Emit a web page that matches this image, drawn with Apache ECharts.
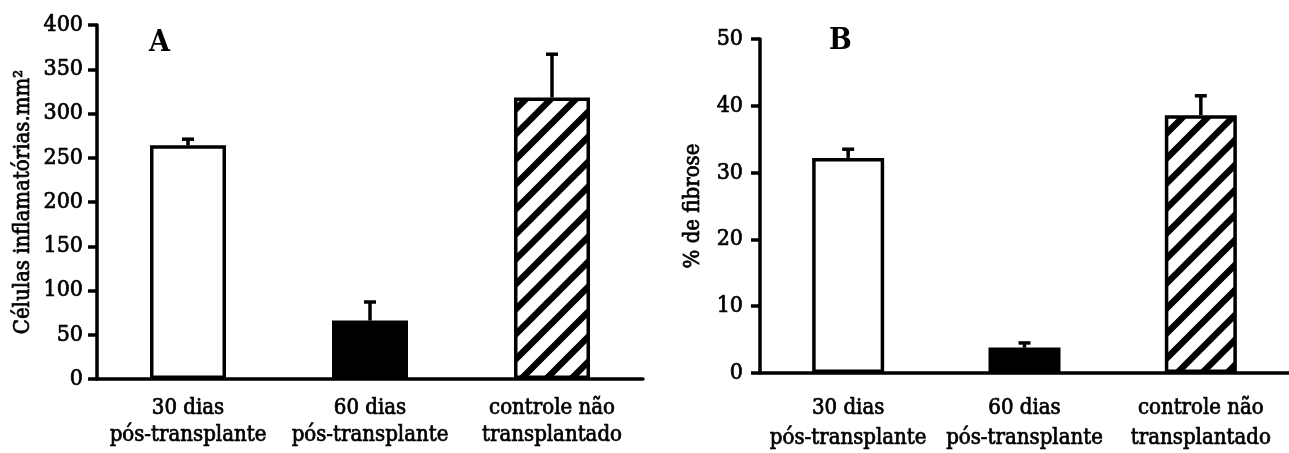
<!DOCTYPE html>
<html>
<head>
<meta charset="utf-8">
<style>
  html, body { margin: 0; padding: 0; background: #fff; }
  #chart { width: 1289px; height: 453px; }
</style>
<script src="https://cdn.jsdelivr.net/npm/echarts@6/dist/echarts.min.js"></script>
</head>
<body>
<div id="chart"></div>
<script>
// data
var categories = ['30 dias\npós-transplante', '60 dias\npós-transplante', 'controle não\ntransplantado']
var cellsMean = [264, 66, 318]
var cellsErr = [7, 21, 49]
var fibroseMean = [32.2, 3.8, 38.6]
var fibroseErr = [1.3, 0.7, 2.9]

var FONT = "'DejaVu Serif Condensed', 'Liberation Serif', serif"
// thin outline to get the heavier look of the printed font
var heavy = { textBorderColor: '#000', textBorderWidth: 0.7 }

function hatchPattern() {
  var s = 25
  var c = document.createElement('canvas')
  c.width = s
  c.height = s
  var ctx = c.getContext('2d')
  ctx.fillStyle = '#fff'
  ctx.fillRect(0, 0, s, s)
  ctx.strokeStyle = '#000'
  ctx.lineWidth = 6.5
  ctx.beginPath()
  for (var k = -1; k <= 1; k++) {
    ctx.moveTo(-5 + k * s, s + 5)
    ctx.lineTo(s + 5 + k * s, -5)
  }
  ctx.stroke()
  return { image: c, repeat: 'repeat' }
}

var hatch = hatchPattern()
var barColors = ['#fff', '#000', hatch]

function barData(values) {
  return values.map(function (v, i) {
    return { value: v, itemStyle: { color: barColors[i] } }
  })
}

function errorSeries(idx, means, errs) {
  return {
    type: 'custom',
    xAxisIndex: idx,
    yAxisIndex: idx,
    z: 1,
    data: means.map(function (m, i) { return [i, m, m + errs[i]] }),
    renderItem: function (params, api) {
      var low = api.coord([api.value(0), api.value(1)])
      var high = api.coord([api.value(0), api.value(2)])
      var hw = 6
      return {
        type: 'group',
        children: [
          { type: 'line', shape: { x1: low[0], y1: low[1], x2: high[0], y2: high[1] }, style: { stroke: '#000', lineWidth: 3.5 } },
          { type: 'line', shape: { x1: high[0] - hw, y1: high[1], x2: high[0] + hw, y2: high[1] }, style: { stroke: '#000', lineWidth: 3.5 } }
        ]
      }
    }
  }
}

function xAxis(idx, margin, lineHeight) {
  return {
    type: 'category',
    gridIndex: idx,
    data: categories,
    axisLine: { lineStyle: { color: '#000', width: 3.5 } },
    axisTick: { length: 13, lineStyle: { color: '#000', width: 3.5 } },
    axisLabel: Object.assign({ color: '#000', fontFamily: FONT, fontSize: 22, lineHeight: lineHeight, margin: margin, interval: 0 }, heavy)
  }
}

function yAxis(idx, max, interval, name, nameGap, margin) {
  return {
    type: 'value',
    gridIndex: idx,
    min: 0,
    max: max,
    interval: interval,
    name: name,
    nameLocation: 'middle',
    nameGap: nameGap,
    nameTextStyle: Object.assign({ color: '#000', fontFamily: FONT, fontSize: 22 }, heavy),
    splitLine: { show: false },
    axisLine: { show: true, lineStyle: { color: '#000', width: 3.5 } },
    axisTick: { show: true, length: 9, lineStyle: { color: '#000', width: 3.5 } },
    axisLabel: Object.assign({ color: '#000', fontFamily: FONT, fontSize: 23, margin: margin }, heavy)
  }
}

var chart = echarts.init(document.getElementById('chart'))
chart.setOption({
  animation: false,
  backgroundColor: '#fff',
  grid: [
    { left: 97, top: 25, width: 546, height: 354 },
    { left: 760, top: 39, width: 540, height: 343 }
  ],
  xAxis: [xAxis(0, 16, 27), xAxis(1, 20, 30)],
  yAxis: [
    yAxis(0, 400, 50, 'Células inflamatórias.mm²', 63, 14),
    yAxis(1, 50, 10, '% de fibrose', 56, 17)
  ],
  graphic: [
    { type: 'text', left: 149, top: 28, style: { text: 'A', font: 'bold 30px ' + FONT, fill: '#000' } },
    { type: 'text', left: 829, top: 26, style: { text: 'B', font: 'bold 30px ' + FONT, fill: '#000' } }
  ],
  series: [
    {
      type: 'bar', xAxisIndex: 0, yAxisIndex: 0, barWidth: 76, z: 2,
      itemStyle: { borderColor: '#000', borderWidth: 3.5 },
      data: barData(cellsMean)
    },
    errorSeries(0, cellsMean, cellsErr),
    {
      type: 'bar', xAxisIndex: 1, yAxisIndex: 1, barWidth: 72, z: 2,
      itemStyle: { borderColor: '#000', borderWidth: 3.5 },
      data: barData(fibroseMean)
    },
    errorSeries(1, fibroseMean, fibroseErr)
  ]
})
</script>
</body>
</html>
